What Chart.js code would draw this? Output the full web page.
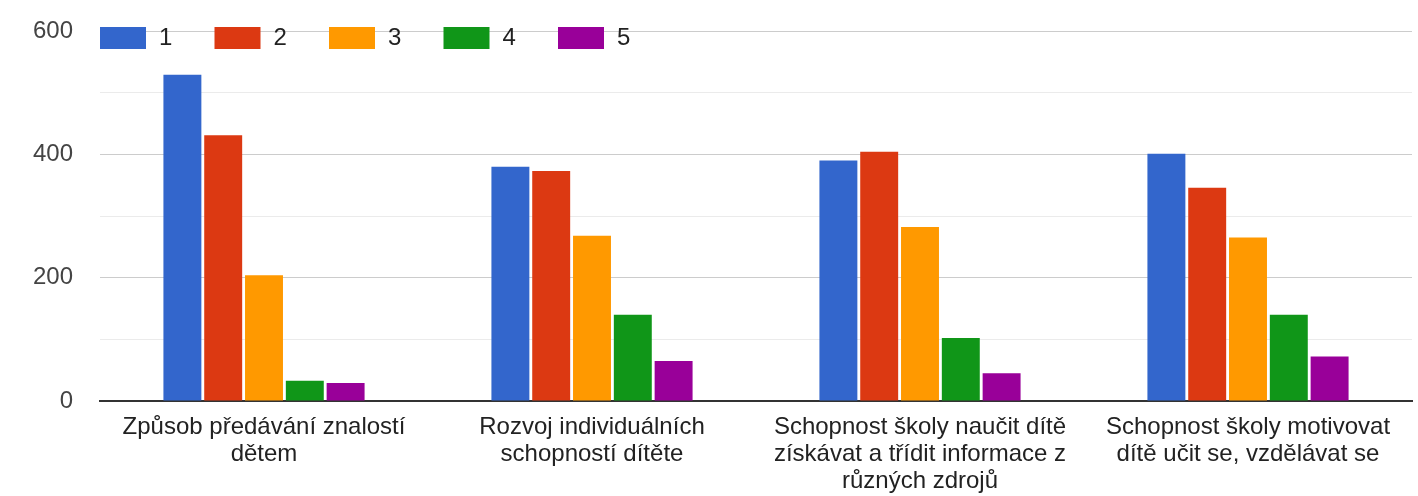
<!DOCTYPE html>
<html>
<head>
<meta charset="utf-8">
<script src="https://cdn.jsdelivr.net/npm/chart.js@4"></script>
<style>
  body { margin: 0; background: #fff; }
  #wrap { width: 1418px; height: 496px; position: relative; }
</style>
</head>
<body>
<div id="wrap"><canvas id="surveyChart"></canvas></div>
<script>
const categories = [
  ["Způsob předávání znalostí", "dětem"],
  ["Rozvoj individuálních", "schopností dítěte"],
  ["Schopnost školy naučit dítě", "získávat a třídit informace z", "různých zdrojů"],
  ["Schopnost školy motivovat", "dítě učit se, vzdělávat se"]
];
const seriesNames = ["1", "2", "3", "4", "5"];
const values1 = [529, 380, 390, 401];
const values2 = [431, 373, 404, 346];
const values3 = [204, 268, 282, 265];
const values4 = [33, 140, 102, 140];
const values5 = [29, 65, 45, 72];
const yTickLabels = [0, 200, 400, 600];

const colors = ["#3366cc", "#dc3912", "#ff9900", "#109618", "#990099"];
const FONT = "'Liberation Sans', Arial, sans-serif";

// legend drawn on top of the plot, like the original
const topLegend = {
  id: "topLegend",
  afterDraw(chart) {
    const ctx = chart.ctx;
    const area = chart.chartArea;
    ctx.save();
    ctx.font = "24px " + FONT;
    ctx.textBaseline = "middle";
    chart.data.datasets.forEach((ds, i) => {
      const x = area.left + i * 114.5;
      ctx.fillStyle = ds.backgroundColor;
      ctx.fillRect(x, 27, 46, 22);
      ctx.fillStyle = "#222";
      ctx.fillText(ds.label, x + 59, 38);
    });
    ctx.restore();
  }
};

const allValues = [values1, values2, values3, values4, values5];
const datasets = allValues.map((vals, i) => ({
  label: seriesNames[i],
  data: vals,
  backgroundColor: colors[i],
  borderWidth: 0,
  categoryPercentage: 0.622,
  barPercentage: 0.93
}));

const ctx = document.getElementById("surveyChart").getContext("2d");
new Chart(ctx, {
  type: "bar",
  data: { labels: categories, datasets: datasets },
  plugins: [topLegend],
  options: {
    responsive: true,
    maintainAspectRatio: false,
    animation: false,
    layout: { padding: { top: 31, right: 6, left: 0, bottom: 0 } },
    plugins: {
      legend: { display: false },
      tooltip: { enabled: false }
    },
    scales: {
      x: {
        grid: { display: false, drawTicks: false },
        border: { color: "#333", width: 2 },
        ticks: {
          color: "#222",
          padding: 13,
          maxRotation: 0,
          autoSkip: false,
          font: { family: FONT, size: 24, lineHeight: 1.12 }
        },
        afterFit: (scale) => { scale.height = 95; }
      },
      y: {
        min: 0,
        max: 600,
        border: { display: false },
        grid: {
          drawTicks: false,
          color: (c) => {
            const v = c.tick.value;
            if (v === 0) return "#333";
            return yTickLabels.includes(v) ? "#cccccc" : "#ebebeb";
          }
        },
        ticks: {
          stepSize: 100,
          padding: 27,
          color: "#444",
          font: { family: FONT, size: 24 },
          callback: (v) => (yTickLabels.includes(v) ? v : "")
        },
        afterFit: (scale) => {
          scale.width = 100;
          scale.paddingTop = 0;
          scale.paddingBottom = 0;
        }
      }
    }
  }
});
</script>
</body>
</html>
